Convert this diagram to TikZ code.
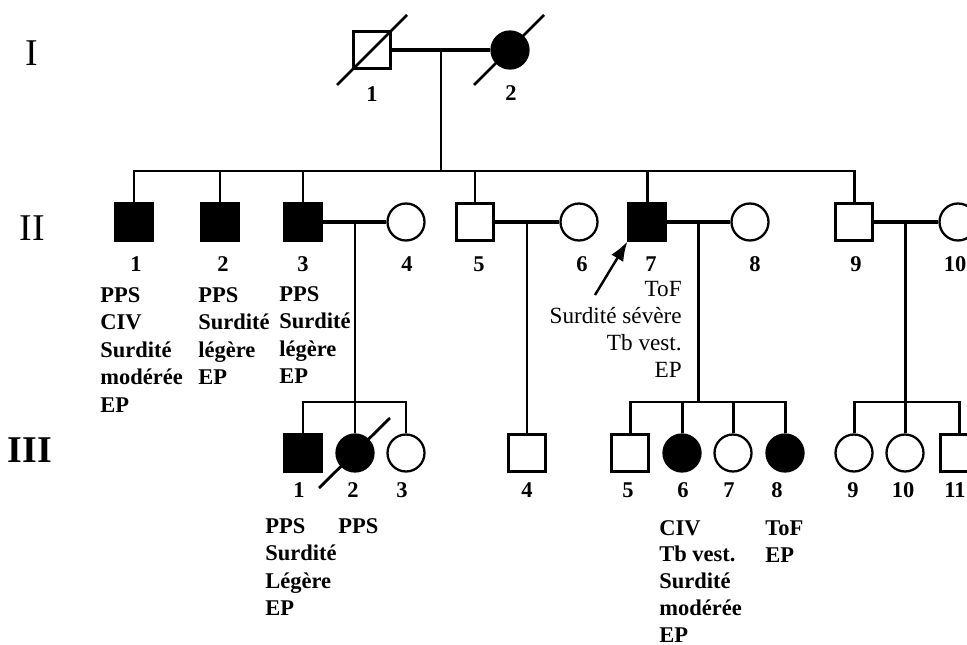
\documentclass[tikz,border=0pt]{standalone}
\usepackage{fontspec}
\setmainfont{Liberation Serif}
\usetikzlibrary{arrows.meta}

\begin{document}
\begin{tikzpicture}[
    x=0.02cm, y=-0.02cm,
    indiv/.style={
        draw=black,
        line width=1.3pt,
        inner sep=0pt,
        minimum size=0.74cm
    },
    male/.style={indiv, rectangle},
    female/.style={indiv, circle},
    affected/.style={fill=black},
    marriage/.style={line width=2.3pt},
    descent/.style={line width=1.7pt},
    deceased/.style={line width=1.6pt},
    num/.style={font=\bfseries\fontsize{12.8}{15}\selectfont, inner sep=0pt},
    note/.style={font=\bfseries\fontsize{12.8}{15.7}\selectfont, align=left, anchor=north west, inner sep=0pt},
    gen/.style={font=\fontsize{21.5}{24}\selectfont, inner sep=0pt}
]
\useasboundingbox (0,0) rectangle (967,645);
\clip (0,0) rectangle (967,645);

% Generation labels
\node[gen] (g1) at (32,53) {I};
\node[gen] (g2) at (32,228) {II};
\node[gen, font=\bfseries\fontsize{21.5}{24}\selectfont] (g3) at (30,450) {III};

% Generation I
\node[male] (i1) at (372,50) {};
\node[female, affected] (i2) at (510,50) {};
\draw[deceased] (i1) +(-35,35) -- +(35,-35);
\draw[deceased] (i2) +(-36,35) -- +(34,-35);
\node[num] (n-i1) at (372,94) {1};
\node[num] (n-i2) at (511,93) {2};

% Generation II
\node[male, affected] (ii1) at (134,222) {};
\node[male, affected] (ii2) at (220,222) {};
\node[male, affected] (ii3) at (303,222) {};
\node[female] (ii4) at (406,222) {};
\node[male] (ii5) at (475,222) {};
\node[female] (ii6) at (579,222) {};
\node[male, affected] (ii7) at (647,222) {};
\node[female] (ii8) at (750,222) {};
\node[male] (ii9) at (854,222) {};
\node[female] (ii10) at (958,222) {};

\foreach \name/\x/\lbl in {ii1/136/1, ii2/223/2, ii3/303/3, ii4/407/4, ii5/479/5,
    ii6/582/6, ii7/651/7, ii8/755/8, ii9/856/9, ii10/955/10}
    \node[num] (n-\name) at (\x,264) {\lbl};

% Sibship of generation II
\coordinate (u1) at (441,50);
\coordinate (s1) at (441,171);
\draw[marriage] (i1) -- (i2);
\draw[descent] (u1) -- (s1);
\draw[descent] (ii1) |- (s1) -| (ii9);
\foreach \c in {ii2, ii3, ii5, ii7}
    \draw[descent] (\c |- s1) -- (\c);

% Clinical notes, generation II
\node[note] (t-ii1) at (100,287) {PPS\\CIV\\Surdité\\modérée\\EP};
\node[note] (t-ii2) at (198,287) {PPS\\Surdité\\légère\\EP};
\node[note] (t-ii3) at (279,286) {PPS\\Surdité\\légère\\EP};
\node[note, font=\fontsize{13.2}{15.3}\selectfont, align=right, anchor=north east] (t-ii7) at (682,281)
    {ToF\\Surdité sévère\\Tb vest.\\EP};

% Proband arrow
\coordinate (ptr) at (595,295);
\draw[line width=1.4pt, -{Latex[length=11pt, width=8pt]}] (ptr) -- (ii7.south west);

% Generation III
\node[male, affected] (iii1) at (303,453) {};
\node[female, affected] (iii2) at (355,453) {};
\node[female] (iii3) at (406,453) {};
\node[male] (iii4) at (527,453) {};
\node[male] (iii5) at (630,453) {};
\node[female, affected] (iii6) at (682,453) {};
\node[female] (iii7) at (733,453) {};
\node[female, affected] (iii8) at (785,453) {};
\node[female] (iii9) at (854,453) {};
\node[female] (iii10) at (905,453) {};
\node[male] (iii11) at (959,453) {};
\draw[deceased] (iii2) +(-36,35) -- +(35,-35);

\foreach \name/\x/\lbl in {iii1/299/1, iii2/353/2, iii3/402/3, iii4/527/4, iii5/628/5,
    iii6/683/6, iii7/729/7, iii8/777/8, iii9/853/9, iii10/903/10, iii11/955/11}
    \node[num] (n-\name) at (\x,490) {\lbl};

% Couple II-3 x II-4
\coordinate (u3) at (355,222);
\coordinate (s3) at (355,402);
\draw[marriage] (ii3) -- (ii4);
\draw[descent] (u3) -- (s3);
\draw[descent] (iii1) |- (s3) -| (iii3);
\draw[descent] (s3) -- (iii2);

% Couple II-5 x II-6
\coordinate (u5) at (527,222);
\draw[marriage] (ii5) -- (ii6);
\draw[descent] (u5) -- (iii4);

% Couple II-7 x II-8
\coordinate (u7) at (698,222);
\coordinate (s7) at (698,402);
\draw[marriage] (ii7) -- (ii8);
\draw[descent] (u7) -- (s7);
\draw[descent] (iii5) |- (s7) -| (iii8);
\foreach \c in {iii6, iii7}
    \draw[descent] (\c |- s7) -- (\c);

% Couple II-9 x II-10
\coordinate (u9) at (905,222);
\coordinate (s9) at (905,402);
\draw[marriage] (ii9) -- (ii10);
\draw[descent] (u9) -- (s9);
\draw[descent] (iii9) |- (s9) -| (iii11);
\draw[descent] (s9) -- (iii10);

% Clinical notes, generation III
\node[note] (t-iii1) at (265,518) {PPS\\Surdité\\Légère\\EP};
\node[note] (t-iii2) at (338,518) {PPS};
\node[note, font=\bfseries\fontsize{12.8}{15.2}\selectfont] (t-iii6) at (659,520) {CIV\\Tb vest.\\Surdité\\modérée\\EP};
\node[note] (t-iii8) at (765,520) {ToF\\EP};

\end{tikzpicture}
\end{document}
